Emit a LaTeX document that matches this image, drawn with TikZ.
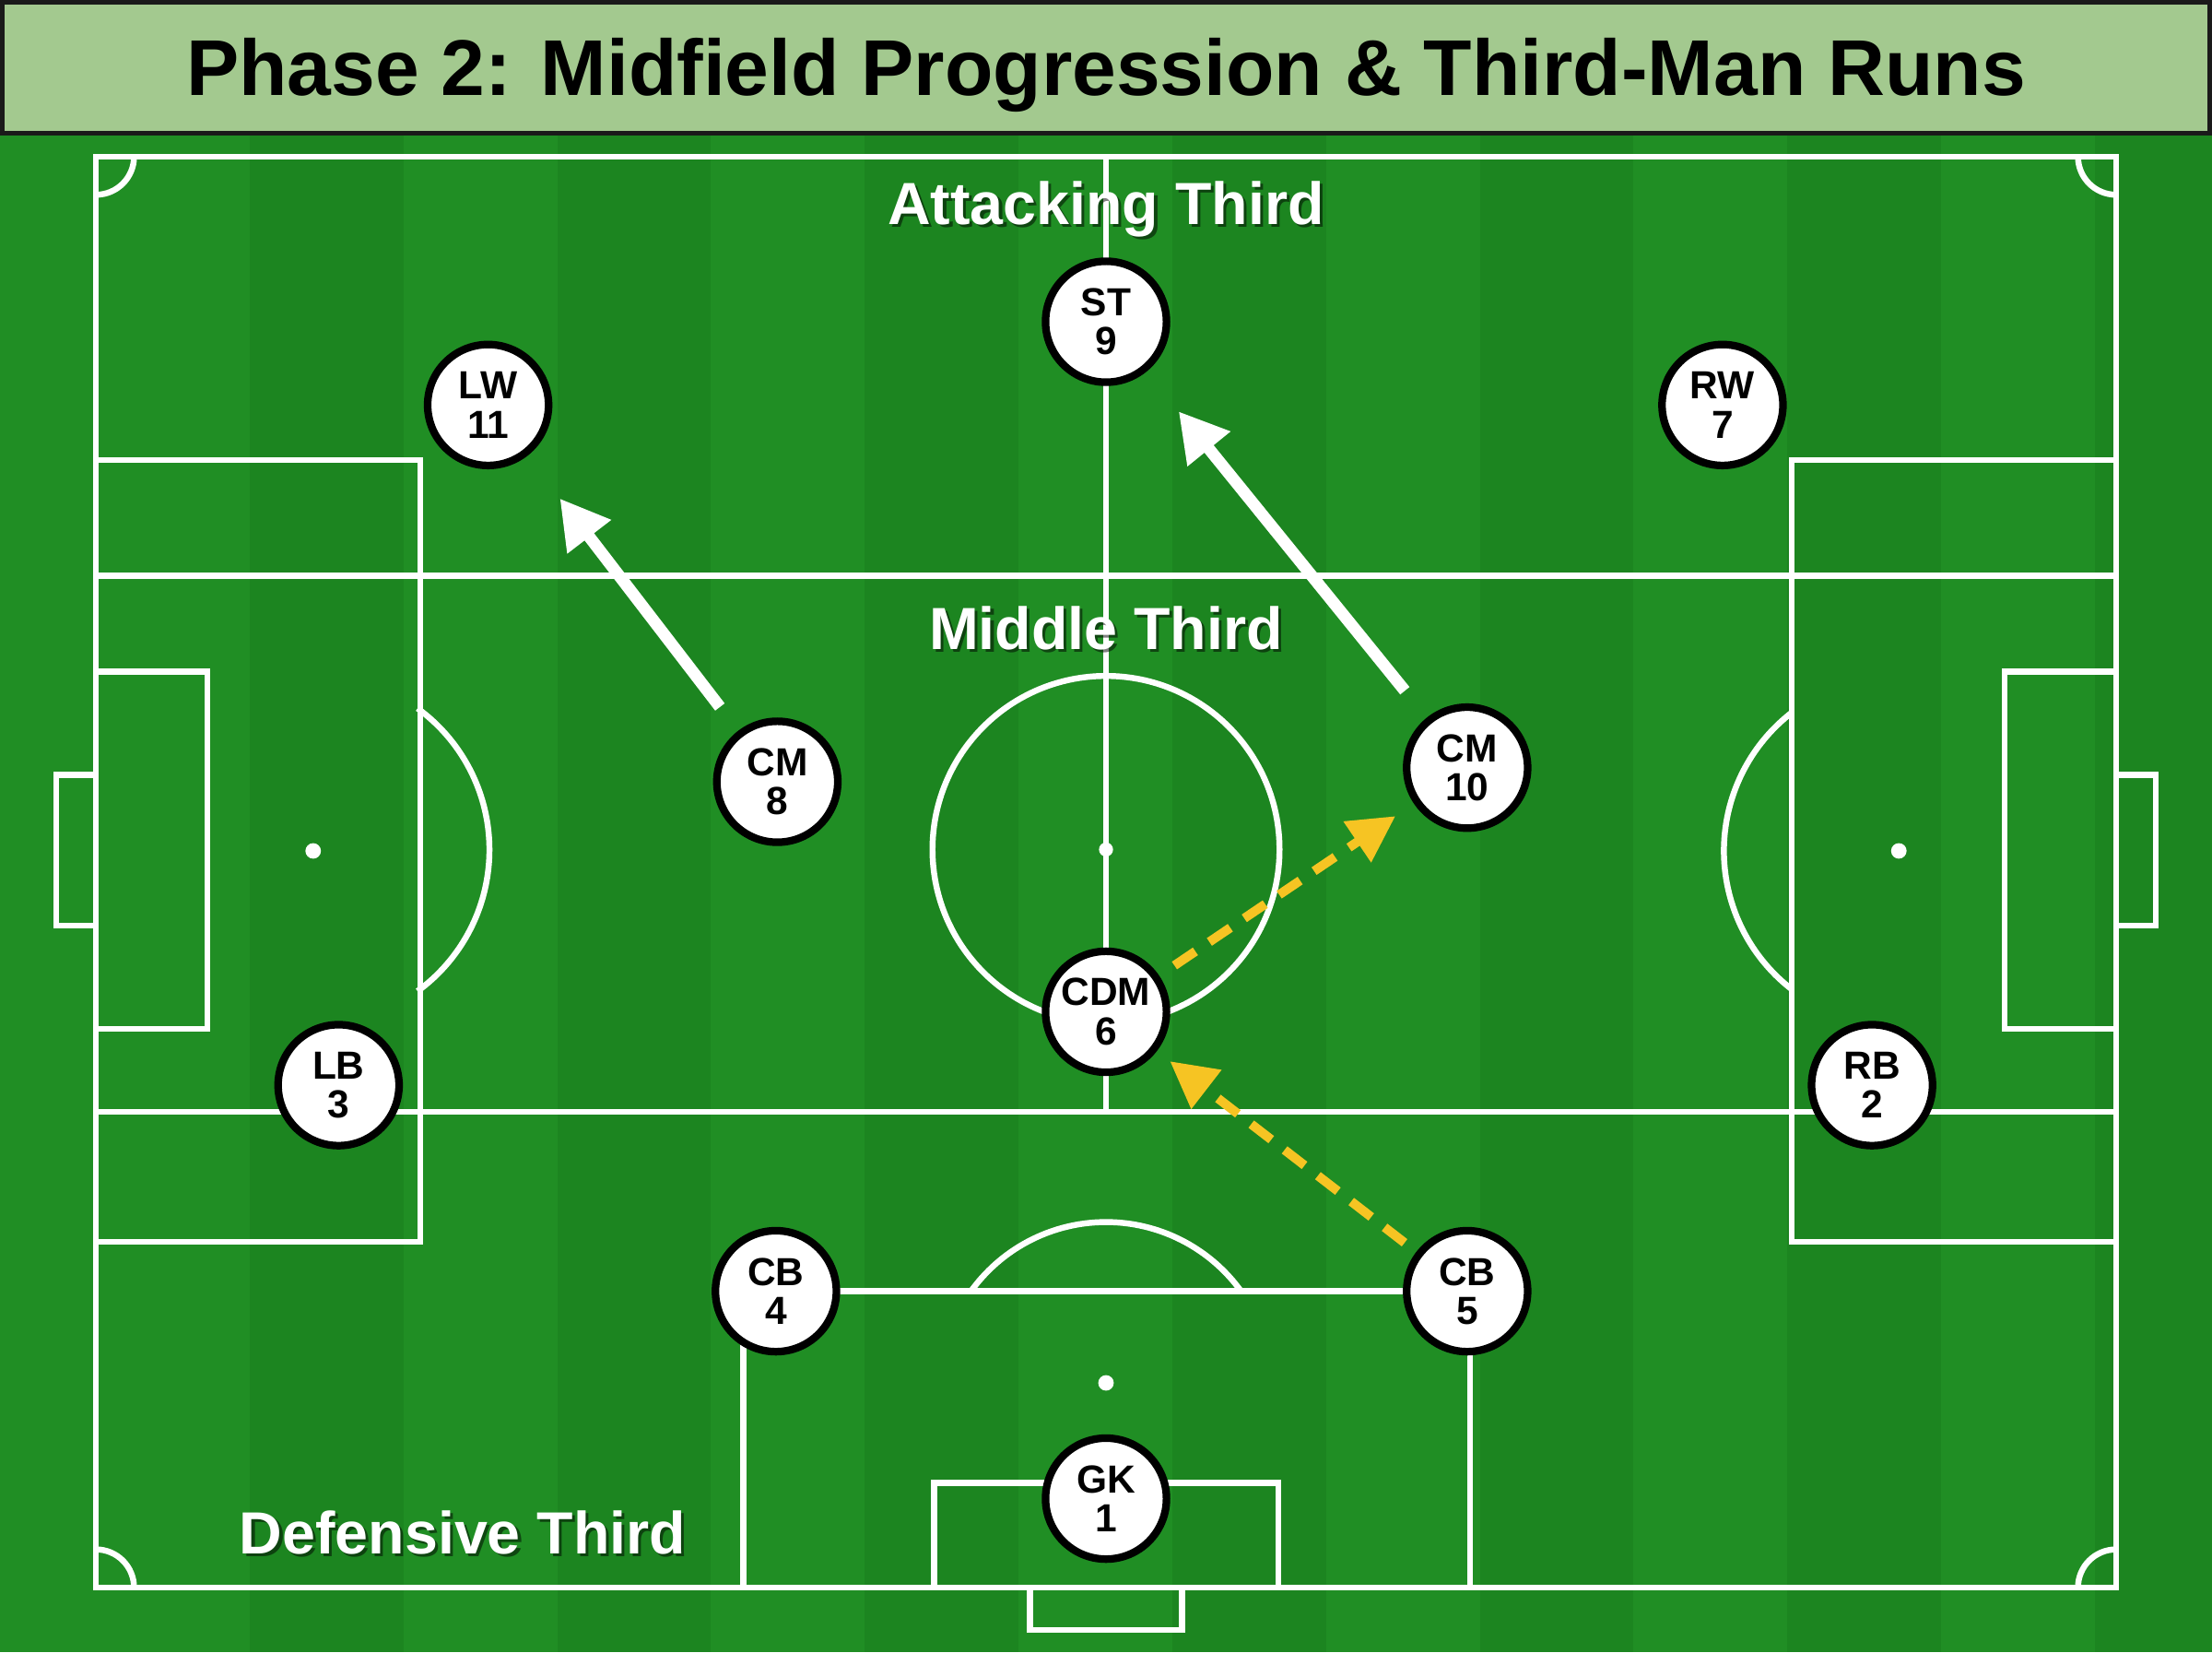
\documentclass[tikz,border=0pt]{standalone}
\usepackage{fontspec}
\setmainfont{Liberation Sans}
\usetikzlibrary{arrows.meta}
\definecolor{titlefill}{RGB}{163,201,143}
\definecolor{titleborder}{RGB}{26,26,26}
\definecolor{grassA}{RGB}{32,142,36}
\definecolor{grassB}{RGB}{28,133,32}
\definecolor{passyellow}{RGB}{246,196,35}
\tikzset{
  pitchline/.style={draw=white, line width=2.4pt},
  spotdot/.style={fill=white},
  player/.style={circle, draw=black, line width=3.06pt, fill=white, minimum size=48.8pt,
    inner sep=0pt, align=center, font=\fontsize{15.8pt}{15.7pt}\selectfont\bfseries},
  zonelabel/.style={text=white, inner sep=0pt, anchor=base,
    font=\fontsize{24pt}{26pt}\selectfont\bfseries},
  zoneshadow/.style={text=black, text opacity=0.5, inner sep=0pt, anchor=base,
    font=\fontsize{24pt}{26pt}\selectfont\bfseries},
  runarrow/.style={draw=white, line width=4.8pt, -{Triangle[length=19.5pt,width=21pt]}},
  passarrow/.style={draw=passyellow, line width=3.7pt, dash pattern=on 10.2pt off 6.8pt,
    -{Triangle[length=18.6pt,width=19pt]}},
  titlebox/.style={fill=titlefill, draw=titleborder, line width=2pt},
  titletext/.style={inner sep=0pt, anchor=base, text=black,
    font=\fontsize{31.9pt}{34pt}\selectfont\bfseries}
}
\begin{document}
\begin{tikzpicture}[x=0.02cm, y=-0.02cm]
\useasboundingbox (0,0) rectangle (1568,1171);
% grass
\fill[grassA] (0,0) rectangle (1568,1171);
\foreach \sx in {177,395,613,831,1049,1267,1485}{
  \fill[grassB] (\sx,95) rectangle ({\sx+109},1171);
}
% title
\draw[titlebox] (1.5,1.5) rectangle (1566.5,94.5);
\node[titletext] (title) at (784,67.5) {Phase 2: Midfield Progression \& Third-Man Runs};
% pitch lines
\draw[pitchline] (68,111) rectangle (1500,1125);
\draw[pitchline] (68,408) -- (1500,408);
\draw[pitchline] (68,788) -- (1500,788);
\draw[pitchline] (784,111) -- (784,788);
% left side
\draw[pitchline] (68,326) rectangle (298,880);
\draw[pitchline] (68,476) rectangle (147,729);
\draw[pitchline] (68,549) -- (40,549) -- (40,656) -- (68,656);
\draw[pitchline] (296,502) arc[start angle=-53.9, end angle=53.9, radius=124];
% right side
\draw[pitchline] (1270,326) rectangle (1500,880);
\draw[pitchline] (1421,476) rectangle (1500,729);
\draw[pitchline] (1500,549) -- (1528,549) -- (1528,656) -- (1500,656);
\draw[pitchline] (1270,701) arc[start angle=127.8, end angle=232.2, radius=124];
% centre
\draw[pitchline] (784,602) circle[radius=123];
% bottom
\draw[pitchline] (527,1125) -- (527,915) -- (1042,915) -- (1042,1125);
\draw[pitchline] (662,1125) -- (662,1051) -- (906,1051) -- (906,1125);
\draw[pitchline] (730,1125) -- (730,1155) -- (838,1155) -- (838,1125);
\draw[pitchline] (688.3,915) arc[start angle=-144.2, end angle=-35.8, radius=118];
% corner arcs
\draw[pitchline] (95,111) arc[start angle=0, end angle=90, radius=27];
\draw[pitchline] (1473,111) arc[start angle=180, end angle=90, radius=27];
\draw[pitchline] (95,1125) arc[start angle=0, end angle=-90, radius=27];
\draw[pitchline] (1473,1125) arc[start angle=180, end angle=270, radius=27];
% spots
\fill[spotdot] (222,603) circle[radius=5.5];
\fill[spotdot] (1346,603) circle[radius=5.5];
\fill[spotdot] (784,602) circle[radius=5];
\fill[spotdot] (784,980) circle[radius=5.5];
% zone labels
\node[zoneshadow] (atkS) at (786,161) {Attacking Third};
\node[zonelabel] (atk) at (784,159) {Attacking Third};
\node[zoneshadow] (midS) at (786,462.5) {Middle Third};
\node[zonelabel] (mid) at (784,460.5) {Middle Third};
\node[zoneshadow] (defS) at (330,1103) {Defensive Third};
\node[zonelabel] (def) at (328,1101) {Defensive Third};
% players
\node[player] (st) at (784,228) {ST\\9};
\node[player] (lw) at (346,287) {LW\\11};
\node[player] (rw) at (1221,287) {RW\\7};
\node[player] (cm8) at (551,554) {CM\\8};
\node[player] (cm10) at (1040,544) {CM\\10};
\node[player] (cdm) at (784,717) {CDM\\6};
\node[player] (lb) at (240,769) {LB\\3};
\node[player] (rb) at (1327,769) {RB\\2};
\node[player] (cb4) at (550,915) {CB\\4};
\node[player] (cb5) at (1040,915) {CB\\5};
\node[player] (gk) at (784,1062) {GK\\1};
% runs and passes
\draw[runarrow, shorten <=12.1pt, shorten >=21.6pt] (cm8) -- (lw);
\draw[runarrow, shorten <=14pt, shorten >=20.6pt] (cm10) -- (st);
\draw[passarrow, shorten <=7.4pt, shorten >=9pt] (cdm) -- (cm10);
\draw[passarrow, shorten <=6pt, shorten >=6.7pt] (cb5) -- (cdm);
\end{tikzpicture}
\end{document}
